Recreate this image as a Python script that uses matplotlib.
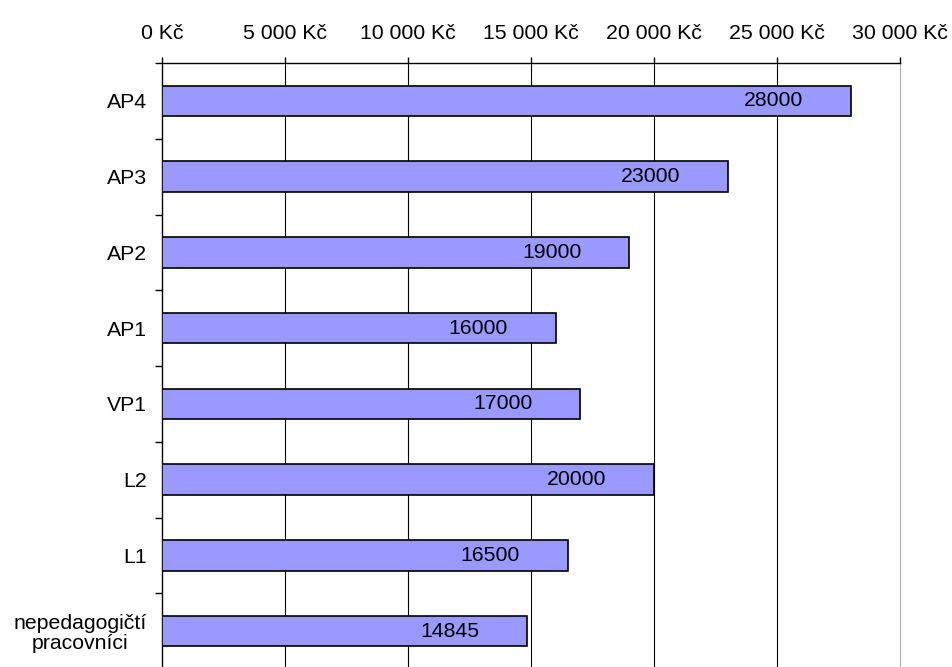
import matplotlib.pyplot as plt
from matplotlib.ticker import FuncFormatter
import numpy as np

plt.rcParams['font.family'] = ['Liberation Sans', 'DejaVu Sans']

categories = ["AP4", "AP3", "AP2", "AP1", "VP1", "L2", "L1", "nepedagogičtí\npracovníci"]
salaries = [28000, 23000, 19000, 16000, 17000, 20000, 16500, 14845]
x_ticks = [0, 5000, 10000, 15000, 20000, 25000, 30000]

fig = plt.figure(figsize=(9.52, 6.67), dpi=100)
ax = fig.add_axes([162 / 952, 1 - 669 / 667, (900 - 162) / 952, (669 - 63) / 667])

y = np.arange(len(categories))
ax.barh(y, salaries, height=0.4, color='#9999FF', edgecolor='black', linewidth=1.2, zorder=3)

for yi, v in zip(y, salaries):
    ax.annotate(str(v), xy=(v, yi), xytext=(-48, 0), textcoords='offset pixels',
                ha='right', va='center', fontsize=15.3, zorder=4)

ax.set_xlim(0, 30000)
ax.set_ylim(len(categories) - 0.5, -0.5)

ax.xaxis.tick_top()
ax.set_xticks(x_ticks)
ax.xaxis.set_major_formatter(FuncFormatter(lambda v, p: f"{int(v):,} Kč".replace(",", " ")))
ax.tick_params(axis='x', direction='out', length=4, width=1, pad=10.5, labelsize=15.3)

ax.set_yticks(y)
ax.set_yticklabels(categories)
ax.set_yticks(np.arange(len(categories) + 1) - 0.5, minor=True)
ax.tick_params(axis='y', which='major', length=0, pad=11, labelsize=15.3)
ax.tick_params(axis='y', which='minor', direction='out', length=5, width=1)
for lbl in ax.get_yticklabels():
    lbl.set_multialignment('center')
    lbl.set_linespacing(1.05)

for xv in x_ticks[1:-1]:
    ax.axvline(xv, color='black', linewidth=0.8, zorder=1)

ax.spines['bottom'].set_visible(False)
ax.spines['right'].set_color('#b0b0b0')
ax.spines['top'].set_linewidth(1)
ax.spines['left'].set_linewidth(1)

fig.savefig('out.png', dpi=100)
